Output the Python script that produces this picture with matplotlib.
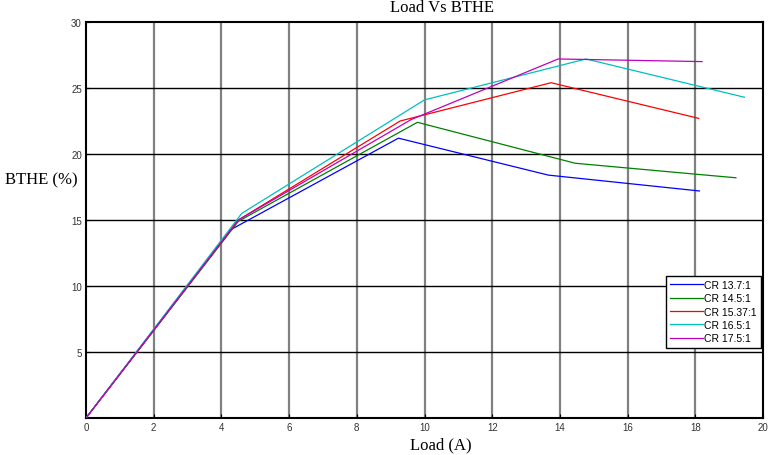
import numpy as np
import matplotlib
matplotlib.use("Agg")
import matplotlib.pyplot as plt

# data
labels = ["CR 13.7:1", "CR 14.5:1", "CR 15.37:1", "CR 16.5:1", "CR 17.5:1"]
load_137 = [0, 4.3, 9.23, 13.66, 18.12]
bthe_137 = [0, 14.3, 21.2, 18.4, 17.2]
load_145 = [0, 4.5, 9.79, 14.45, 18.1, 19.2]
bthe_145 = [0, 14.9, 22.4, 19.3, 18.45, 18.2]
load_1537 = [0, 4.5, 9.28, 13.74, 18.1]
bthe_1537 = [0, 15.0, 22.5, 25.4, 22.7]
load_165 = [0, 4.6, 10.0, 14.77, 19.45]
bthe_165 = [0, 15.5, 24.1, 27.2, 24.3]
load_175 = [0, 4.5, 9.6, 13.95, 18.2]
bthe_175 = [0, 15.0, 22.6, 27.2, 27.0]

xticks = np.arange(0, 21, 2)
yticks = [5, 10, 15, 20, 25, 30]

colors = [(0, 0, 1), (0, 0.5, 0), (1, 0, 0), (0, 0.75, 0.75), (0.75, 0, 0.75)]
series = [(load_137, bthe_137), (load_145, bthe_145), (load_1537, bthe_1537),
          (load_165, bthe_165), (load_175, bthe_175)]

fig = plt.figure(figsize=(7.73, 4.56), dpi=100)
ax = fig.add_axes([86 / 773, 1 - 419 / 456, 677 / 773, 396 / 456])

# grid like matlab: grey verticals, black horizontals
for xv in xticks[1:-1]:
    ax.axvline(xv, color="#808080", lw=1.6, zorder=1)
for yv in yticks[:-1]:
    ax.axhline(yv, color="black", lw=1.0, zorder=1)

for (x, y), c, lab in zip(series, colors, labels):
    ax.plot(x, y, color=c, lw=0.9, label=lab, zorder=3)

ax.set_xlim(0, 20)
ax.set_ylim(0, 30)
ax.set_xticks(xticks)
ax.set_yticks(yticks)
ax.tick_params(direction="in", length=3, width=0.8, labelsize=7, pad=3,
               top=False, right=False)
for lbl in ax.get_xticklabels() + ax.get_yticklabels():
    lbl.set_family("Liberation Sans")
    lbl.set_color("#333333")
for s in ax.spines.values():
    s.set_linewidth(1.5)

fig.text(442 / 773, 1 - 8 / 456, "Load Vs BTHE", family="Liberation Serif",
         fontsize=12, ha="center", va="center")
fig.text(441 / 773, 1 - 445 / 456, "Load (A)", family="Liberation Serif",
         fontsize=12, ha="center", va="center")
fig.text(5 / 773, 1 - 180 / 456, "BTHE (%)", family="Liberation Serif",
         fontsize=12, ha="left", va="center")

leg = ax.legend(loc="upper right", bbox_to_anchor=(0.997, 0.359),
                prop={"family": "Liberation Sans", "size": 7.5},
                fancybox=False, framealpha=1, edgecolor="black",
                handlelength=3.1, handletextpad=0.15, borderpad=0.4,
                labelspacing=0.32, borderaxespad=0)
leg.get_frame().set_linewidth(1.0)
leg.set_zorder(5)

fig.savefig("out.png", dpi=100)
